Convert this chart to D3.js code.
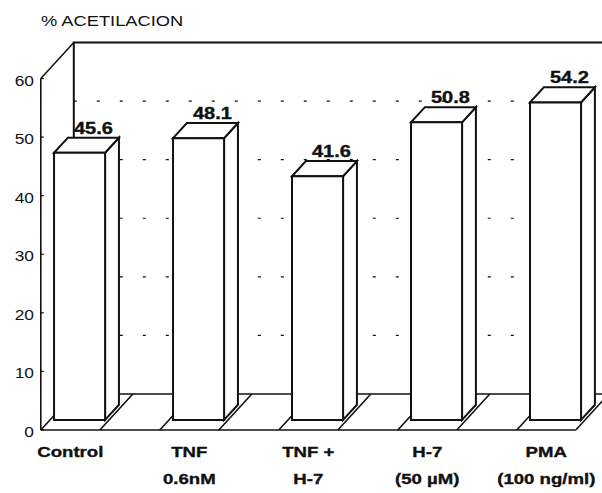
<!DOCTYPE html>
<html>
<head>
<meta charset="utf-8">
<script src="https://cdn.jsdelivr.net/npm/d3@7"></script>
<style>
  body { margin: 0; background: #fff; }
  text { font-family: "Liberation Sans", Arial, Helvetica, sans-serif; fill: #111; }
  .heavy { stroke: #111; stroke-width: 0.35; }
</style>
</head>
<body>
<svg id="chart" width="602" height="493"></svg>
<script>
// Data
const categories = ["Control", "TNF", "TNF +", "H-7", "PMA"];
const subLabels = ["", "0.6nM", "H-7", "(50 \u00B5M)", "(100 ng/ml)"];
const values = [45.6, 48.1, 41.6, 50.8, 54.2];
const valueLabels = ["45.6", "48.1", "41.6", "50.8", "54.2"];
const yTicks = [0, 10, 20, 30, 40, 50, 60];
const gridValues = [10, 20, 30, 40, 50];
const yTitle = "% ACETILACION";

const svg = d3.select("#chart");

// 3D box: depth vector of the floor, bar depth range inside it
const DX = 33, DY = -36;
const z0 = 0.28, z1 = 0.70;
const slotPad = 4;

const y = d3.scaleLinear().domain([0, 60]).range([430, 78.5]);
const x = d3.scaleBand().domain(categories).range([44.8, 571.8])
  .paddingInner(0.571).paddingOuter(0);
const bw = x.bandwidth();

const P = (wx, v, z) => [wx + z * DX, y(v) + z * DY];
const line = d3.line();

const leftX = x(categories[0]) - slotPad;
const rightX = x(categories[categories.length - 1]) + bw + slotPad;
const farX = rightX + 40;

const ink = "#111";

// Back wall: gridlines
svg.append("g").selectAll("path").data(gridValues).join("path")
  .attr("d", v => line([P(leftX, v, 1), P(farX, v, 1)]))
  .attr("fill", "none").attr("stroke", ink).attr("stroke-width", 1.2)
  .attr("stroke-dasharray", "3,20");

// Back wall outline and left wall top edge
const frame = svg.append("g").attr("fill", "none").attr("stroke", ink).attr("stroke-width", 2);
frame.append("path").attr("d", line([P(leftX, 0, 1), P(leftX, 60, 1), P(farX, 60, 1)]));
frame.append("path").attr("d", line([P(leftX, 60, 0), P(leftX, 60, 1)])).attr("stroke-width", 1.5);

// Floor: front edge, back edge, slot lines for each bar
const floor = svg.append("g").attr("fill", "none").attr("stroke", ink).attr("stroke-width", 1.6);
floor.append("path").attr("d", line([P(leftX, 0, 0), P(rightX, 0, 0)]));
floor.append("path").attr("d", line([P(leftX, 0, 1), P(farX, 0, 1)]));
categories.forEach(c => {
  const l = x(c) - slotPad, r = x(c) + bw + slotPad;
  floor.append("path").attr("d", line([P(l, 0, 0), P(l, 0, 1)]));
  floor.append("path").attr("d", line([P(r, 0, 0), P(r, 0, 1)]));
});

// Front value axis
const axis = svg.append("g").attr("stroke", ink).attr("fill", "none");
axis.append("path").attr("d", line([P(leftX, 0, 0), P(leftX, 60, 0)])).attr("stroke-width", 1.6);
axis.selectAll("path.tick").data(yTicks).join("path").attr("class", "tick")
  .attr("d", v => line([P(leftX, v, 0), [P(leftX, v, 0)[0] + 3, y(v)]]))
  .attr("stroke-width", 1.2);

svg.append("g").selectAll("text").data(yTicks).join("text")
  .attr("transform", v => `translate(34,${y(v) + 7}) scale(1.12,1)`)
  .attr("text-anchor", "end").attr("font-size", 15.5)
  .text(d => d);

// Bars
const bars = svg.append("g").attr("fill", "#fff").attr("stroke", ink)
  .attr("stroke-width", 2).attr("stroke-linejoin", "miter");
categories.forEach((c, i) => {
  const v = values[i], a = x(c), b = x(c) + bw;
  const g = bars.append("g");
  g.append("path").attr("d", line([P(b, 0, z0), P(b, 0, z1), P(b, v, z1), P(b, v, z0)]) + "Z");
  g.append("path").attr("d", line([P(a, v, z0), P(b, v, z0), P(b, v, z1), P(a, v, z1)]) + "Z");
  g.append("path").attr("d", line([P(a, 0, z0), P(b, 0, z0), P(b, v, z0), P(a, v, z0)]) + "Z");
});

// Value labels above each bar
svg.append("g").selectAll("text").data(categories).join("text")
  .attr("class", "heavy")
  .attr("transform", (c, i) => {
    const p = P(x(c) + bw / 2, values[i], z1);
    return `translate(${p[0]},${p[1] - 4}) scale(1.25,1)`;
  })
  .attr("text-anchor", "middle").attr("font-size", 16).attr("font-weight", "bold")
  .text((c, i) => valueLabels[i]);

// Category labels (two lines)
const cat = svg.append("g").attr("font-size", 15.5).attr("font-weight", "bold")
  .attr("text-anchor", "middle").attr("class", "heavy");
categories.forEach((c, i) => {
  const cx = P(x(c) + bw / 2, 0, 0)[0];
  cat.append("text").attr("transform", `translate(${cx},457) scale(1.2,1)`).text(c);
  if (subLabels[i]) {
    cat.append("text").attr("transform", `translate(${cx},484) scale(1.2,1)`).text(subLabels[i]);
  }
});

// Axis title
svg.append("text")
  .attr("transform", "translate(41,26) scale(1.18,1)")
  .attr("font-size", 15.5)
  .text(yTitle);
</script>
</body>
</html>
